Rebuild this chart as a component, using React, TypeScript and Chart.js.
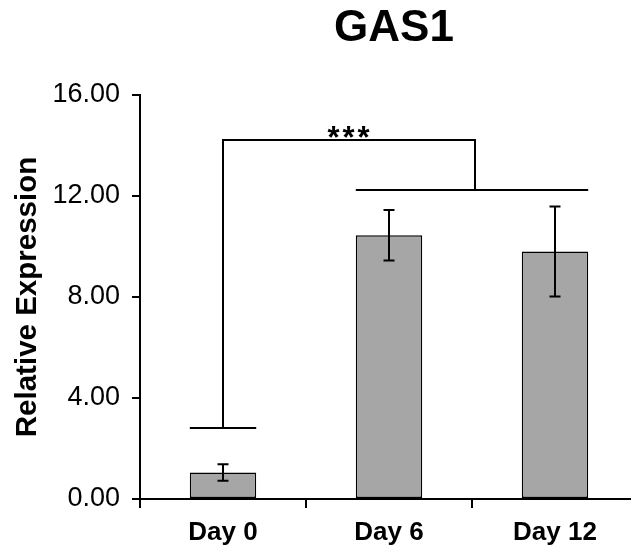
import React, { useEffect, useRef } from "react";
import { Chart, registerables } from "chart.js";

Chart.register(...registerables);

const categories = ["Day 0", "Day 6", "Day 12"];
const meanValues = [1.05, 10.45, 9.8];
const errorValues = [0.33, 1.0, 1.78];
const yTicks = [0, 4, 8, 12, 16];
// significance bracket levels (in data units)
const bracketTopLevel = [14.22];
const bracketGroupLevel = [12.24];
const bracketDay0Level = [2.81];
const sigLabel = ["***"];
const titleText = ["GAS1"];

const FONT = "'Liberation Sans', Arial, sans-serif";

const overlayPlugin = {
  id: "overlay",
  afterDatasetsDraw(chart: any) {
    const ctx = chart.ctx;
    const meta = chart.getDatasetMeta(0);
    const y = chart.scales.y;
    ctx.save();
    ctx.strokeStyle = "#000";
    ctx.lineWidth = 2;
    // error bars
    meta.data.forEach((bar: any, i: number) => {
      const x = bar.x;
      const top = y.getPixelForValue(meanValues[i] + errorValues[i]);
      const bot = y.getPixelForValue(meanValues[i] - errorValues[i]);
      const cap = 5.5;
      ctx.beginPath();
      ctx.moveTo(x, top);
      ctx.lineTo(x, bot);
      ctx.moveTo(x - cap, top);
      ctx.lineTo(x + cap, top);
      ctx.moveTo(x - cap, bot);
      ctx.lineTo(x + cap, bot);
      ctx.stroke();
    });
    // brackets
    const b0: any = meta.data[0];
    const b1: any = meta.data[1];
    const b2: any = meta.data[2];
    const x0 = b0.x;
    const left6 = b1.x - b1.width / 2;
    const right12 = b2.x + b2.width / 2;
    const xr = (left6 + right12) / 2 + 3;
    const yTop = y.getPixelForValue(bracketTopLevel[0]);
    const yGrp = y.getPixelForValue(bracketGroupLevel[0]);
    const yD0 = y.getPixelForValue(bracketDay0Level[0]);
    ctx.beginPath();
    ctx.moveTo(x0, yD0);
    ctx.lineTo(x0, yTop);
    ctx.lineTo(xr, yTop);
    ctx.lineTo(xr, yGrp);
    ctx.moveTo(left6, yGrp);
    ctx.lineTo(right12, yGrp);
    ctx.moveTo(b0.x - b0.width / 2, yD0);
    ctx.lineTo(b0.x + b0.width / 2, yD0);
    ctx.stroke();
    ctx.fillStyle = "#000";
    ctx.font = `bold 31px ${FONT}`;
    ctx.textAlign = "center";
    ctx.textBaseline = "alphabetic";
    try {
      (ctx as any).letterSpacing = "3px";
    } catch (e) {}
    ctx.fillText(sigLabel[0], (x0 + xr) / 2 + 1, yTop + 8);
    try {
      (ctx as any).letterSpacing = "0px";
    } catch (e) {}
    // title
    ctx.font = `bold 44px ${FONT}`;
    ctx.textBaseline = "middle";
    const ca = chart.chartArea;
    ctx.fillText(titleText[0], (ca.left + ca.right) / 2 + 5, 29);
    ctx.restore();
  },
};

export default function App() {
  const ref = useRef<HTMLCanvasElement>(null);
  useEffect(() => {
    if (!ref.current) return;
    const chart = new Chart(ref.current, {
      type: "bar",
      data: {
        labels: categories,
        datasets: [
          {
            data: meanValues,
            backgroundColor: "#a6a6a6",
            borderColor: "#000",
            borderWidth: 1.5,
            borderSkipped: false,
            barPercentage: 0.4,
            categoryPercentage: 1,
          },
        ],
      },
      options: {
        animation: false,
        responsive: false,
        devicePixelRatio: 1,
        layout: { padding: { left: 10, top: 95, right: 22, bottom: 0 } },
        plugins: {
          legend: { display: false },
          tooltip: { enabled: false },
          title: { display: false },
        },
        scales: {
          x: {
            offset: true,
            grid: {
              offset: true,
              drawOnChartArea: false,
              drawTicks: true,
              tickLength: 9,
              color: "#000",
              lineWidth: 2,
            },
            border: { display: true, color: "#000", width: 2 },
            ticks: {
              color: "#000",
              font: { family: FONT, size: 26, weight: "bold" },
              padding: 9,
              maxRotation: 0,
            },
            afterFit: (s: any) => {
              s.height = 47;
            },
          },
          y: {
            min: 0,
            max: 16,
            afterBuildTicks: (s: any) => {
              s.ticks = yTicks.map((v) => ({ value: v }));
            },
            grid: {
              drawOnChartArea: false,
              drawTicks: true,
              tickLength: 8,
              color: "#000",
              lineWidth: 2,
            },
            border: { display: true, color: "#000", width: 2 },
            ticks: {
              color: "#000",
              font: { family: FONT, size: 27 },
              padding: 12,
              callback: (v: any) => Number(v).toFixed(2),
            },
            title: {
              display: true,
              text: "Relative Expression",
              color: "#000",
              font: { family: FONT, size: 29.5, weight: "bold" },
              padding: 0,
            },
            afterFit: (s: any) => {
              s.width = 130;
            },
          },
        },
      },
      plugins: [overlayPlugin],
    });
    return () => chart.destroy();
  }, []);
  return (
    <div
      style={{
        position: "fixed",
        left: 0,
        top: 0,
        width: 631,
        height: 546,
        overflow: "hidden",
        background: "#fff",
      }}
    >
      <canvas ref={ref} width={660} height={546} style={{ display: "block" }} />
    </div>
  );
}
